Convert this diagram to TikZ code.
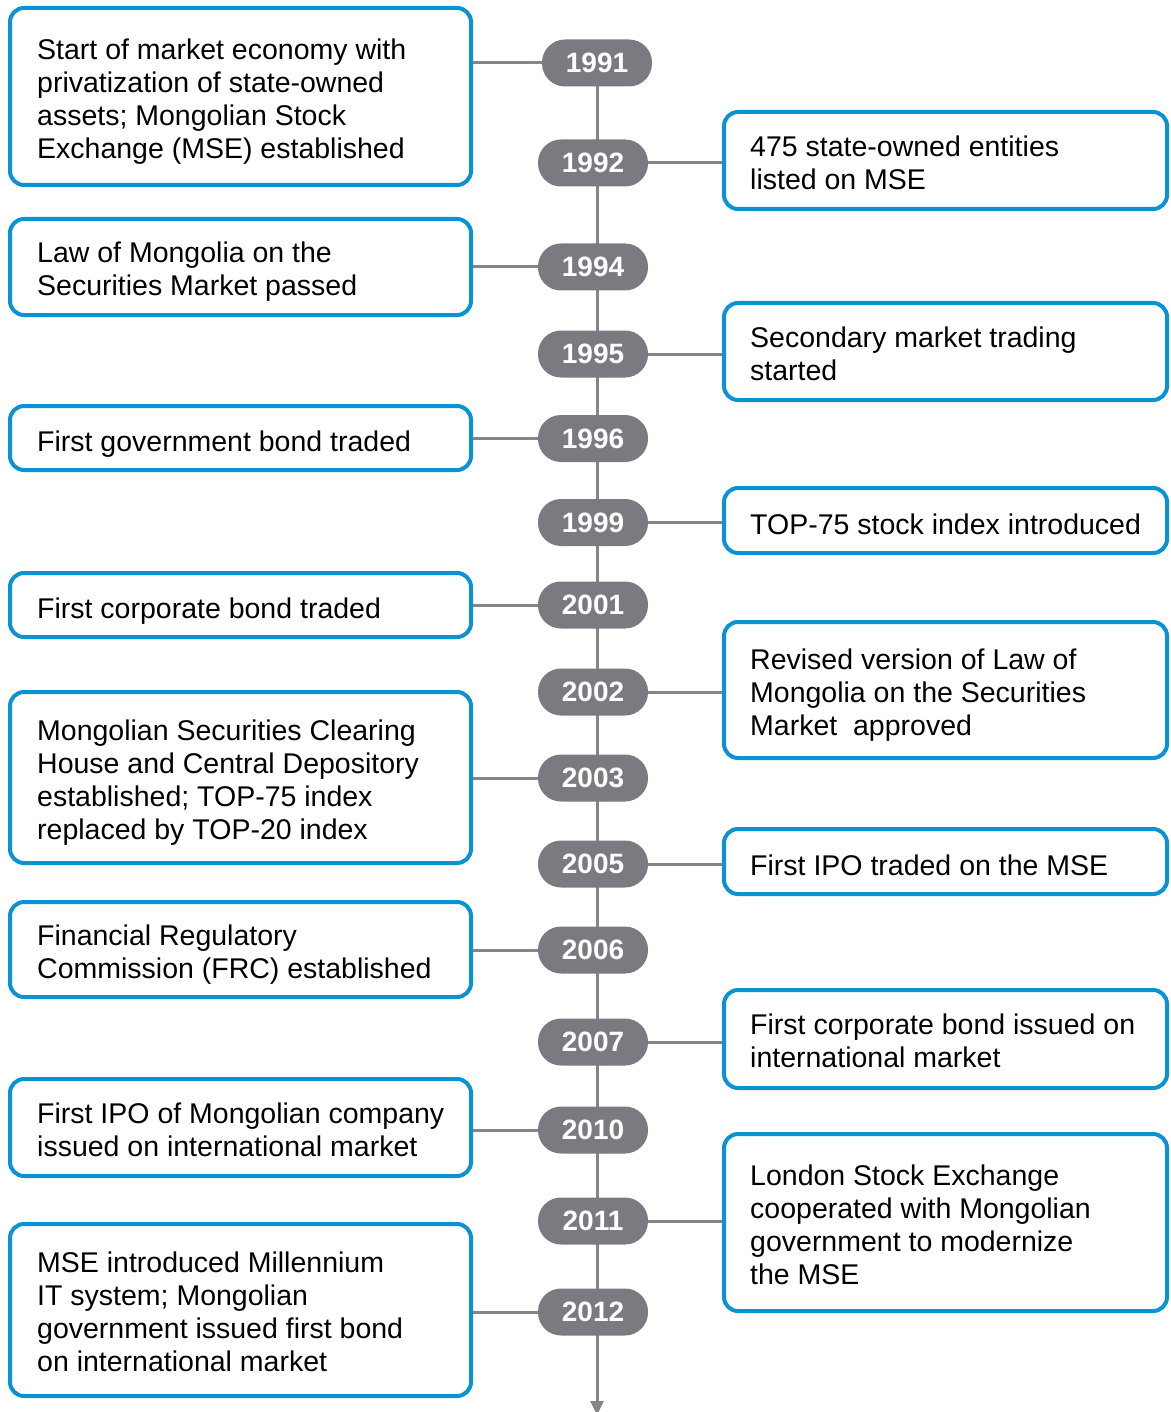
\documentclass[tikz,border=0pt]{standalone}
\usepackage{fontspec}
\setmainfont{Liberation Sans}
\usetikzlibrary{arrows.meta,backgrounds}
\definecolor{mblue}{HTML}{0A93D4}
\definecolor{pillgray}{HTML}{7B7A80}
\definecolor{linegray}{HTML}{86858B}
\begin{document}
\begin{tikzpicture}[x=1pt,y=-1pt,
  box/.style={draw=mblue, line width=4pt, rounded corners=14pt, fill=white, inner sep=0pt},
  lbox/.style={box, minimum width=461pt},
  rbox/.style={box, minimum width=443pt},
  txt/.style={anchor=west, align=left, inner sep=0pt, yshift=-7pt,
    font=\fontsize{28.5}{33}\selectfont,
    execute at begin node=\strut, execute at end node=\strut},
  pill/.style={fill=pillgray, rounded corners=23pt, minimum width=110pt, minimum height=47pt,
    inner sep=0pt, text=white, font=\fontsize{28}{28}\selectfont\bfseries},
  conn/.style={draw=linegray, line width=3pt}
]
\useasboundingbox (0,0) rectangle (1170,1412);

% year pills
\node[pill] (p1991) at (597,63) {1991};
\node[pill] (p1992) at (593,163) {1992};
\node[pill] (p1994) at (593,267) {1994};
\node[pill] (p1995) at (593,354) {1995};
\node[pill] (p1996) at (593,438.5) {1996};
\node[pill] (p1999) at (593,522.5) {1999};
\node[pill] (p2001) at (593,605) {2001};
\node[pill] (p2002) at (593,692) {2002};
\node[pill] (p2003) at (593,778) {2003};
\node[pill] (p2005) at (593,864) {2005};
\node[pill] (p2006) at (593,950) {2006};
\node[pill] (p2007) at (593,1042) {2007};
\node[pill] (p2010) at (593,1130) {2010};
\node[pill] (p2011) at (593,1221) {2011};
\node[pill] (p2012) at (593,1312) {2012};
\coordinate (tend) at (597,1415);

% left boxes
\node[lbox, minimum height=177pt] (L1) at (240.5,96.5) {};
\node[lbox, minimum height=96pt] (L2) at (240.5,267) {};
\node[lbox, minimum height=64pt] (L3) at (240.5,438) {};
\node[lbox, minimum height=64pt] (L4) at (240.5,605) {};
\node[lbox, minimum height=171pt] (L5) at (240.5,777.5) {};
\node[lbox, minimum height=95pt] (L6) at (240.5,949.5) {};
\node[lbox, minimum height=97pt] (L7) at (240.5,1127.5) {};
\node[lbox, minimum height=172pt] (L8) at (240.5,1310) {};

% right boxes
\node[rbox, minimum height=97pt] (R1) at (945.5,160.5) {};
\node[rbox, minimum height=97pt] (R2) at (945.5,351.5) {};
\node[rbox, minimum height=65pt] (R3) at (945.5,520.5) {};
\node[rbox, minimum height=136pt] (R4) at (945.5,690) {};
\node[rbox, minimum height=65pt] (R5) at (945.5,861.5) {};
\node[rbox, minimum height=98pt] (R6) at (945.5,1039) {};
\node[rbox, minimum height=177pt] (R7) at (945.5,1222.5) {};

% texts
\node[txt, xshift=29pt] (tL1) at (L1.west) {Start of market economy with\\privatization of state-owned\\assets; Mongolian Stock\\Exchange (MSE) established};
\node[txt, xshift=29pt] (tL2) at (L2.west) {Law of Mongolia on the\\Securities Market passed};
\node[txt, xshift=29pt] (tL3) at (L3.west) {First government bond traded};
\node[txt, xshift=29pt] (tL4) at (L4.west) {First corporate bond traded};
\node[txt, xshift=29pt] (tL5) at (L5.west) {Mongolian Securities Clearing\\House and Central Depository\\established; TOP-75 index\\replaced by TOP-20 index};
\node[txt, xshift=29pt] (tL6) at (L6.west) {Financial Regulatory\\Commission (FRC) established};
\node[txt, xshift=29pt] (tL7) at (L7.west) {First IPO of Mongolian company\\issued on international market};
\node[txt, xshift=29pt] (tL8) at (L8.west) {MSE introduced Millennium\\IT system; Mongolian\\government issued first bond\\on international market};

\node[txt, xshift=28pt] (tR1) at (R1.west) {475 state-owned entities\\listed on MSE};
\node[txt, xshift=28pt] (tR2) at (R2.west) {Secondary market trading\\started};
\node[txt, xshift=28pt] (tR3) at (R3.west) {TOP-75 stock index introduced};
\node[txt, xshift=28pt] (tR4) at (R4.west) {Revised version of Law of\\Mongolia on the Securities\\Market\ \ approved};
\node[txt, xshift=28pt] (tR5) at (R5.west) {First IPO traded on the MSE};
\node[txt, xshift=28pt] (tR6) at (R6.west) {First corporate bond issued on\\international market};
\node[txt, xshift=28pt] (tR7) at (R7.west) {London Stock Exchange\\cooperated with Mongolian\\government to modernize\\the MSE};

\begin{pgfonlayer}{background}
  \draw[conn, -{Triangle[length=14pt,width=13pt]}] (p1991.center) -- (tend);
  \draw[conn] (L1.east |- p1991) -- (p1991.west);
  \draw[conn] (p1992.east) -- (p1992 -| R1.west);
  \draw[conn] (L2.east |- p1994) -- (p1994.west);
  \draw[conn] (p1995.east) -- (p1995 -| R2.west);
  \draw[conn] (L3.east |- p1996) -- (p1996.west);
  \draw[conn] (p1999.east) -- (p1999 -| R3.west);
  \draw[conn] (L4.east |- p2001) -- (p2001.west);
  \draw[conn] (p2002.east) -- (p2002 -| R4.west);
  \draw[conn] (L5.east |- p2003) -- (p2003.west);
  \draw[conn] (p2005.east) -- (p2005 -| R5.west);
  \draw[conn] (L6.east |- p2006) -- (p2006.west);
  \draw[conn] (p2007.east) -- (p2007 -| R6.west);
  \draw[conn] (L7.east |- p2010) -- (p2010.west);
  \draw[conn] (p2011.east) -- (p2011 -| R7.west);
  \draw[conn] (L8.east |- p2012) -- (p2012.west);
\end{pgfonlayer}
\end{tikzpicture}
\end{document}
